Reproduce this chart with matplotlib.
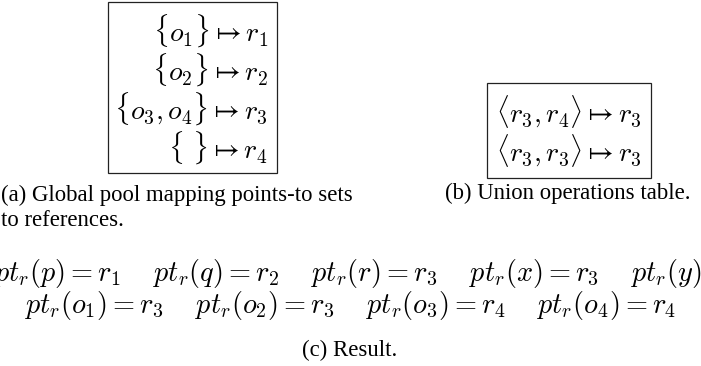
import matplotlib
matplotlib.use("Agg")
from matplotlib import pyplot as plt
from matplotlib.patches import Rectangle

plt.rcParams['mathtext.fontset'] = 'cm'
plt.rcParams['font.family'] = ['Liberation Serif', 'DejaVu Serif']

W, H = 701, 366

# (a) global pool: points-to set -> reference
pool_sets = [r'\{o_1\}', r'\{o_2\}', r'\{o_3, o_4\}', r'\{\ \}']
pool_refs = ['r_1', 'r_2', 'r_3', 'r_4']

# (b) union operations table
union_pairs = [r'\langle r_3, r_4\rangle', r'\langle r_3, r_3\rangle']
union_refs = ['r_3', 'r_3']

# (c) resulting points-to references
result_vars_1 = ['p', 'q', 'r', 'x', 'y']
result_refs_1 = ['r_1', 'r_2', 'r_3', 'r_3', 'r_3']
result_vars_2 = ['o_1', 'o_2', 'o_3', 'o_4']
result_refs_2 = ['r_3', 'r_3', 'r_4', 'r_4']

caption_a = ['(a) Global pool mapping points-to sets', 'to references.']
caption_b = '(b) Union operations table.'
caption_c = '(c) Result.'

BOX_SIZE = 20
RES_SIZE = 20.4
CAP_SIZE = 16.4


def px(x, y):
    # pixel position (from top-left) to figure fraction
    return x / W, 1 - y / H


def box(fig, x0, y0, x1, y1):
    fig.patches.append(Rectangle(px(x0, y1), (x1 - x0) / W, (y1 - y0) / H,
                                 transform=fig.transFigure, fill=False,
                                 edgecolor='#222222', linewidth=0.9))


def mapping(a, b):
    return '$' + a + r' \mapsto ' + b + '$'


def results(vars_, refs):
    parts = ['pt_r(%s) = %s' % (v, r) for v, r in zip(vars_, refs)]
    return '$' + r' \quad\; '.join(parts) + '$'


fig = plt.figure(figsize=(W / 100, H / 100), dpi=100)

# (a)
box(fig, 108, 2, 277, 173)
for i, (s, r) in enumerate(zip(pool_sets, pool_refs)):
    fig.text(*px(268, 31 + 39 * i), mapping(s, r), ha='right', va='center',
             fontsize=BOX_SIZE)
for i, line in enumerate(caption_a):
    fig.text(*px(1, 195 + 25 * i), line, ha='left', va='center',
             fontsize=CAP_SIZE)

# (b)
box(fig, 487, 83, 651, 178)
for i, (s, r) in enumerate(zip(union_pairs, union_refs)):
    fig.text(*px(569, 112 + 39 * i), mapping(s, r), ha='center', va='center',
             fontsize=BOX_SIZE)
fig.text(*px(568, 193), caption_b, ha='center', va='center',
         fontsize=CAP_SIZE)

# (c)
fig.text(*px(-7, 274), results(result_vars_1, result_refs_1), ha='left',
         va='center', fontsize=RES_SIZE)
fig.text(*px(350, 305), results(result_vars_2, result_refs_2), ha='center',
         va='center', fontsize=RES_SIZE)
fig.text(*px(350, 350), caption_c, ha='center', va='center',
         fontsize=CAP_SIZE)

fig.savefig('out.png', dpi=100)
